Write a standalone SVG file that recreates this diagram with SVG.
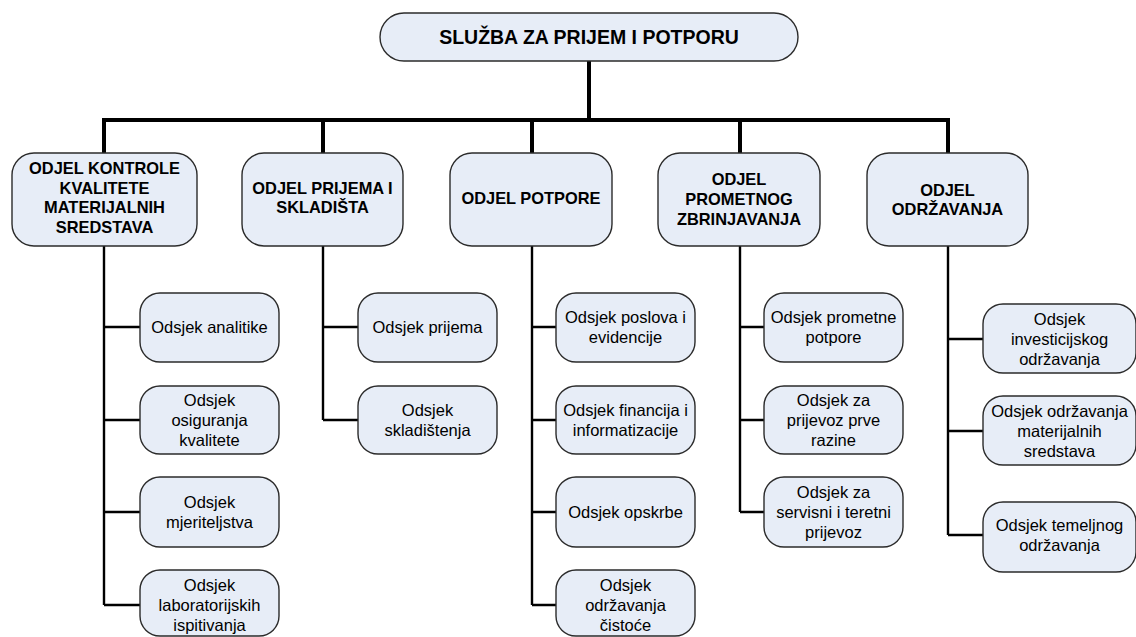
<svg xmlns="http://www.w3.org/2000/svg" width="1136" height="637" viewBox="0 0 1136 637">
<style>
.box{fill:#E7EDF7;stroke:#2b2b2b;stroke-width:1.4}
.t{font-family:"Liberation Sans",Arial,sans-serif;fill:#000;text-anchor:middle}
.title{font-size:19.5px;font-weight:bold}
.dept{font-size:16.4px;font-weight:bold}
.sub{font-size:16.5px}
.bus{stroke:#000;stroke-width:4;fill:none}
.ln{stroke:#000;stroke-width:2.4;fill:none}
</style>
<rect width="1136" height="637" fill="#fff"/>
<g id="connectors">
<path class="bus" d="M589 61V120M104 120H948M104 118V153M323 118V153M532 118V153M740 118V153M948 118V153"/>
<path class="ln" d="M104 246V605M104 327H140M104 420H140M104 512H140M104 605H140"/>
<path class="ln" d="M323 246V420M323 327H358M323 420H358"/>
<path class="ln" d="M532 246V605M532 327H556M532 420H556M532 512H556M532 605H556"/>
<path class="ln" d="M740 246V512M740 327H764M740 420H764M740 512H764"/>
<path class="ln" d="M948 246V535M948 339H983M948 431H983M948 535H983"/>
</g>
<g id="root"><rect class="box" x="380" y="13" width="418" height="48" rx="24"/><text class="t title" x="589" y="44">SLUŽBA ZA PRIJEM I POTPORU</text></g>
<g id="d1"><rect class="box" x="12" y="153" width="185" height="93" rx="22"/><text class="t dept" x="104.5"><tspan x="104.5" y="174.3">ODJEL KONTROLE</tspan><tspan x="104.5" y="193.8">KVALITETE</tspan><tspan x="104.5" y="213.3">MATERIJALNIH</tspan><tspan x="104.5" y="232.8">SREDSTAVA</tspan></text></g>
<g id="d2"><rect class="box" x="242" y="153" width="161" height="93" rx="22"/><text class="t dept"><tspan x="322.5" y="193.8">ODJEL PRIJEMA I</tspan><tspan x="322.5" y="213.3">SKLADIŠTA</tspan></text></g>
<g id="d3"><rect class="box" x="450" y="153" width="162" height="93" rx="22"/><text class="t dept" x="531" y="203.8">ODJEL POTPORE</text></g>
<g id="d4"><rect class="box" x="658" y="153" width="162" height="93" rx="22"/><text class="t dept"><tspan x="739" y="184.8">ODJEL</tspan><tspan x="739" y="204.8">PROMETNOG</tspan><tspan x="739" y="224.8">ZBRINJAVANJA</tspan></text></g>
<g id="d5"><rect class="box" x="867" y="153" width="161" height="93" rx="22"/><text class="t dept"><tspan x="947.5" y="195.8">ODJEL</tspan><tspan x="947.5" y="214.8">ODRŽAVANJA</tspan></text></g>

<g id="s1a"><rect class="box" x="140" y="293" width="139" height="69" rx="20"/><text class="t sub" x="209.5" y="333">Odsjek analitike</text></g>
<g id="s1b"><rect class="box" x="140" y="386" width="139" height="68" rx="20"/><text class="t sub"><tspan x="209.5" y="406">Odsjek</tspan><tspan x="209.5" y="426">osiguranja</tspan><tspan x="209.5" y="446">kvalitete</tspan></text></g>
<g id="s1c"><rect class="box" x="140" y="477" width="139" height="70" rx="20"/><text class="t sub"><tspan x="209.5" y="508">Odsjek</tspan><tspan x="209.5" y="528">mjeriteljstva</tspan></text></g>
<g id="s1d"><rect class="box" x="140" y="570" width="139" height="66" rx="20"/><text class="t sub"><tspan x="209.5" y="591">Odsjek</tspan><tspan x="209.5" y="611">laboratorijskih</tspan><tspan x="209.5" y="631">ispitivanja</tspan></text></g>

<g id="s2a"><rect class="box" x="358" y="293" width="139" height="69" rx="20"/><text class="t sub" x="427.5" y="333">Odsjek prijema</text></g>
<g id="s2b"><rect class="box" x="358" y="386" width="139" height="68" rx="20"/><text class="t sub"><tspan x="427.5" y="416">Odsjek</tspan><tspan x="427.5" y="436">skladištenja</tspan></text></g>

<g id="s3a"><rect class="box" x="556" y="293" width="139" height="69" rx="20"/><text class="t sub"><tspan x="625.5" y="323">Odsjek poslova i</tspan><tspan x="625.5" y="343">evidencije</tspan></text></g>
<g id="s3b"><rect class="box" x="556" y="386" width="139" height="68" rx="20"/><text class="t sub"><tspan x="625.5" y="416">Odsjek financija i</tspan><tspan x="625.5" y="436">informatizacije</tspan></text></g>
<g id="s3c"><rect class="box" x="556" y="477" width="139" height="70" rx="20"/><text class="t sub" x="625.5" y="518">Odsjek opskrbe</text></g>
<g id="s3d"><rect class="box" x="556" y="570" width="139" height="66" rx="20"/><text class="t sub"><tspan x="625.5" y="591">Odsjek</tspan><tspan x="625.5" y="611">održavanja</tspan><tspan x="625.5" y="631">čistoće</tspan></text></g>

<g id="s4a"><rect class="box" x="764" y="293" width="139" height="69" rx="20"/><text class="t sub"><tspan x="833.5" y="323">Odsjek prometne</tspan><tspan x="833.5" y="343">potpore</tspan></text></g>
<g id="s4b"><rect class="box" x="764" y="386" width="139" height="68" rx="20"/><text class="t sub"><tspan x="833.5" y="406">Odsjek za</tspan><tspan x="833.5" y="426">prijevoz prve</tspan><tspan x="833.5" y="446">razine</tspan></text></g>
<g id="s4c"><rect class="box" x="764" y="477" width="139" height="70" rx="20"/><text class="t sub"><tspan x="833.5" y="498">Odsjek za</tspan><tspan x="833.5" y="518">servisni i teretni</tspan><tspan x="833.5" y="538">prijevoz</tspan></text></g>

<g id="s5a"><rect class="box" x="983" y="304" width="153" height="69" rx="20"/><text class="t sub"><tspan x="1059.5" y="325">Odsjek</tspan><tspan x="1059.5" y="345">investicijskog</tspan><tspan x="1059.5" y="365">održavanja</tspan></text></g>
<g id="s5b"><rect class="box" x="983" y="396" width="153" height="69" rx="20"/><text class="t sub"><tspan x="1059.5" y="417">Odsjek održavanja</tspan><tspan x="1059.5" y="437">materijalnih</tspan><tspan x="1059.5" y="457">sredstava</tspan></text></g>
<g id="s5c"><rect class="box" x="983" y="502" width="153" height="70" rx="20"/><text class="t sub"><tspan x="1059.5" y="531">Odsjek temeljnog</tspan><tspan x="1059.5" y="551">održavanja</tspan></text></g>
</svg>
